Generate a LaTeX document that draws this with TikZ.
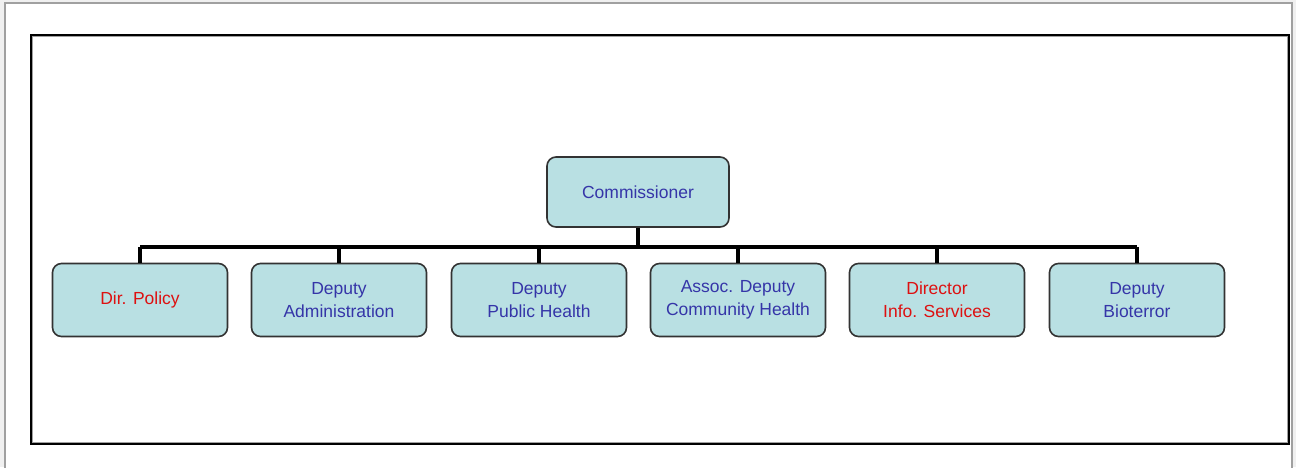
\documentclass[tikz,border=0pt]{standalone}
\usepackage{fontspec}
\setmainfont{Liberation Sans}
\usepackage{tikz}
\usepackage{xcolor}
\usetikzlibrary{positioning}

\definecolor{boxfill}{HTML}{B9E0E3}
\definecolor{boxtext}{HTML}{3535A8}
\definecolor{redtext}{HTML}{DD1111}
\definecolor{pagegray}{HTML}{F0F0F0}
\definecolor{framegray}{HTML}{A0A0A0}

\tikzset{
    orgbox/.style={rectangle, rounded corners=9pt, draw=black!80, line width=1.6pt, fill=boxfill,
        minimum width=175pt, minimum height=73pt, align=center, text=boxtext,
        font=\fontsize{17.5}{23}\selectfont},
    redbox/.style={orgbox, text=redtext},
    bus/.style={line width=4pt, black}
}

\begin{document}
\begin{tikzpicture}[x=1pt, y=-1pt]
    \useasboundingbox (0, 0) rectangle (1296, 467);
    % page and frames
    \fill[pagegray] (0, 0) rectangle (1296, 467);
    \fill[white] (5, 3) rectangle (1292, 467);
    \draw[framegray, line width=1.5pt] (5, 470) -- (5, 3) -- (1292, 3) -- (1292, 470);
    \draw[black, line width=2pt] (31, 35) rectangle (1289, 444);
    \draw[framegray, line width=1pt] (32.5, 36.5) rectangle (1287.5, 442.5);

    \node[orgbox, minimum width=182pt, minimum height=70pt] (comm) at (638, 192) {Commissioner};

    \node[redbox] (policy) at (140, 300) {Dir. Policy};
    \node[orgbox] (admin) at (339, 300) {Deputy\\Administration};
    \node[orgbox] (pubhealth) at (539, 300) {Deputy\\Public Health};
    \node[orgbox] (community) at (738, 300) {Assoc. Deputy\\Community Health};
    \node[redbox] (infoserv) at (937, 300) {Director\\Info. Services};
    \node[orgbox] (bioterror) at (1137, 300) {Deputy\\Bioterror};

    \coordinate (busL) at (140, 247);
    \coordinate (busR) at (1137, 247);

    \draw[bus] (busL) -- (busR);
    \draw[bus] (comm.south) -- (comm.south |- busL);
    \draw[bus] (policy.north) -- (policy.north |- busL);
    \draw[bus] (admin.north) -- (admin.north |- busL);
    \draw[bus] (pubhealth.north) -- (pubhealth.north |- busL);
    \draw[bus] (community.north) -- (community.north |- busL);
    \draw[bus] (infoserv.north) -- (infoserv.north |- busL);
    \draw[bus] (bioterror.north) -- (bioterror.north |- busL);
\end{tikzpicture}
\end{document}
